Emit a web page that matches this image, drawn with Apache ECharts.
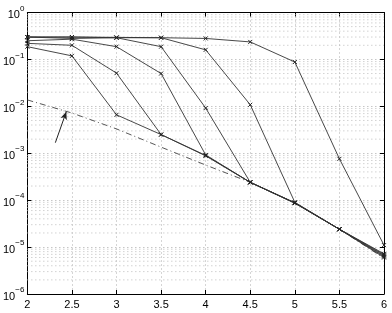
<!DOCTYPE html>
<html><head><meta charset="utf-8">
<script src="https://cdn.jsdelivr.net/npm/echarts@6/dist/echarts.min.js"></script>
<style>html,body{margin:0;padding:0;background:#fff}#c{width:392px;height:313px}</style>
</head><body><div id="c"></div>
<script>
const xValues = [2, 2.5, 3, 3.5, 4, 4.5, 5, 5.5, 6];
const curve1 = [0.187, 0.119, 0.0066, 0.0025, 9.0e-4, 2.4e-4, 8.7e-5, 2.4e-5, 6.0e-6];
const curve2 = [0.22, 0.20, 0.051, 0.0025, 8.8e-4, 2.4e-4, 8.8e-5, 2.4e-5, 6.3e-6];
const curve3 = [0.25, 0.27, 0.187, 0.05, 9.2e-4, 2.4e-4, 8.8e-5, 2.4e-5, 6.6e-6];
const curve4 = [0.30, 0.28, 0.29, 0.187, 0.0092, 2.4e-4, 8.6e-5, 2.4e-5, 6.9e-6];
const curve5 = [0.30, 0.30, 0.29, 0.29, 0.16, 0.0108, 9.0e-5, 2.4e-5, 7.2e-6];
const curve6 = [0.30, 0.30, 0.295, 0.29, 0.28, 0.236, 0.088, 7.6e-4, 1.1e-5];
const boundCurve = [0.0137, 0.0072, 0.0033, 0.00135, 5.6e-4, 2.4e-4, 8.7e-5, 2.4e-5, 5.8e-6];
const arrowFrom = [2.314, 0.00168];
const arrowTo = [2.437, 0.0077];
const xTicks = ['2', '2.5', '3', '3.5', '4', '4.5', '5', '5.5', '6'];

const minorY = [];
for (let e = -6; e < 0; e++) for (let k = 2; k <= 9; k++) minorY.push(k * Math.pow(10, e));

const crossSym = 'path://M0,0L10,10M10,0L0,10';
function curveSeries(vals) {
  return {
    type: 'line', data: xValues.map((x, i) => [x, vals[i]]),
    symbol: crossSym, symbolSize: 4, showSymbol: true,
    lineStyle: { color: '#333', width: 0.9 },
    itemStyle: { color: 'none', borderColor: '#222', borderWidth: 1 },
    animation: false, z: 5
  };
}
const minorSeries = minorY.map(v => ({
  type: 'line', data: [[2, v], [6, v]], symbol: 'none', silent: true, z: 1,
  lineStyle: { color: '#bbb', type: [1, 3], width: 1 }, animation: false
}));
const font = 'Liberation Sans, Arial, sans-serif';
const chart = echarts.init(document.getElementById('c'));
chart.setOption({
  animation: false,
  grid: { left: 24, right: 8, top: 12.5, bottom: 19, containLabel: false },
  xAxis: [{
    type: 'value', min: 2, max: 6, interval: 0.5,
    axisLine: { lineStyle: { color: '#000', width: 1 } },
    axisTick: { inside: true, length: 4, lineStyle: { color: '#000' } },
    axisLabel: { color: '#000', fontSize: 11, fontFamily: font, margin: 5,
      formatter: v => xTicks[Math.round((v - 2) / 0.5)] },
    splitLine: { show: true, lineStyle: { color: '#aaa', type: [1, 3], width: 1 } }
  }, {
    type: 'value', min: 2, max: 6, interval: 0.5, position: 'top',
    axisLine: { show: true, lineStyle: { color: '#000', width: 1 } },
    axisTick: { inside: true, length: 4, lineStyle: { color: '#000' } },
    axisLabel: { show: false }, splitLine: { show: false }
  }],
  yAxis: [{
    type: 'log', logBase: 10, min: 1e-6, max: 1,
    axisLine: { show: true, lineStyle: { color: '#000', width: 1 } },
    axisTick: { inside: true, length: 4, lineStyle: { color: '#000' } },
    axisLabel: {
      color: '#000', fontFamily: font, margin: 3,
      formatter: v => { const e = Math.round(Math.log10(v)); return '{b|10}{s|' + (e < 0 ? '\u2212' + (-e) : e) + '}'; },
      rich: {
        b: { fontSize: 11, fontFamily: font, color: '#000', verticalAlign: 'bottom', lineHeight: 16, padding: [6, 0, 0, 0] },
        s: { fontSize: 8, fontFamily: font, color: '#000', verticalAlign: 'top', lineHeight: 16, padding: [0, 0, 6, 0] }
      }
    },
    splitLine: { show: true, lineStyle: { color: '#aaa', type: [1, 3], width: 1 } }
  }, {
    type: 'log', logBase: 10, min: 1e-6, max: 1, position: 'right',
    axisLine: { show: true, lineStyle: { color: '#000', width: 1 } },
    axisTick: { inside: true, length: 4, lineStyle: { color: '#000' } },
    axisLabel: { show: false }, splitLine: { show: false }
  }],
  series: minorSeries.concat([
    curveSeries(curve1), curveSeries(curve2), curveSeries(curve3),
    curveSeries(curve4), curveSeries(curve5), curveSeries(curve6),
    {
      type: 'line', data: xValues.map((x, i) => [x, boundCurve[i]]),
      showSymbol: false, symbol: 'none',
      lineStyle: { color: '#444', width: 0.9, type: [6, 3, 1, 3] }, z: 4,
      markLine: {
        silent: true, symbol: ['none', 'arrow'], symbolSize: [5, 8],
        label: { show: false },
        lineStyle: { color: '#222', width: 1, type: 'solid' },
        data: [[{ coord: arrowFrom }, { coord: arrowTo }]], animation: false
      }
    }
  ])
});
</script></body></html>
